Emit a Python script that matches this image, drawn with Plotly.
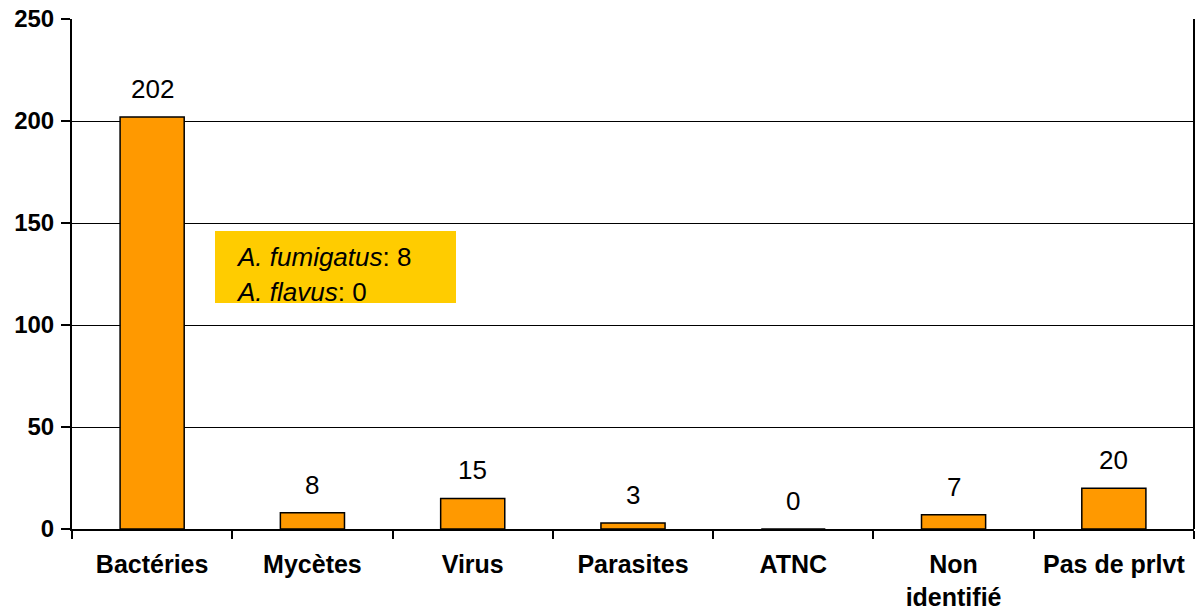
import plotly.graph_objects as go

categories = ["Bactéries", "Mycètes", "Virus", "Parasites", "ATNC", "Non<br>identifié", "Pas de prlvt"]
values = [202, 8, 15, 3, 0, 7, 20]
y_ticks = [0, 50, 100, 150, 200, 250]

FONT = "Liberation Sans, Arial"

fig = go.Figure()
fig.add_trace(go.Bar(
    x=categories, y=values, width=0.4,
    marker=dict(color="#FF9900", line=dict(color="black", width=1.5)),
    hoverinfo="skip",
))

for c, v in zip(categories, values):
    fig.add_annotation(x=c, y=v, text=str(v), showarrow=False, yanchor="bottom",
                       yshift=11, font=dict(family=FONT, size=26, color="black"))

fig.add_shape(type="rect", xref="paper", yref="y", x0=(215-72)/1122, x1=(456-72)/1122,
              y0=(529-303)/102*50, y1=(529-231)/102*50,
              fillcolor="#FFCC00", line=dict(width=0), layer="above")
fig.add_annotation(xref="paper", yref="y", x=(234-72)/1122, y=(529-257)/102*50,
                   text="<i>A. fumigatus</i>: 8", showarrow=False, xanchor="left", yanchor="middle",
                   font=dict(family=FONT, size=26, color="black"))
fig.add_annotation(xref="paper", yref="y", x=(234-72)/1122, y=(529-292)/102*50,
                   text="<i>A. flavus</i>: 0", showarrow=False, xanchor="left", yanchor="middle",
                   font=dict(family=FONT, size=26, color="black"))

fig.update_layout(
    width=1202, height=614,
    margin=dict(l=72, r=8, t=19, b=85),
    plot_bgcolor="white", paper_bgcolor="white",
    showlegend=False, bargap=0.6,
    font=dict(family=FONT, color="black"),
)
fig.update_xaxes(
    type="category", showline=True, linecolor="black", linewidth=2,
    ticks="outside", tickson="boundaries", ticklen=8, tickwidth=2, tickcolor="black",
    tickfont=dict(size=25, family=FONT, weight="bold"), ticklabelstandoff=12,
    showgrid=False, mirror=False, automargin=False,
)
fig.update_yaxes(
    range=[0, 250], tickvals=y_ticks, showline=True, linecolor="black", linewidth=2,
    ticks="outside", ticklen=9, tickwidth=2, tickcolor="black",
    tickfont=dict(size=24, family=FONT, weight="bold"), ticklabelstandoff=2,
    showgrid=True, gridcolor="black", gridwidth=1, zeroline=False, automargin=False,
)
fig.add_shape(type="line", xref="paper", yref="paper", x0=1, x1=1, y0=0, y1=1,
              line=dict(color="black", width=2))

fig.write_html("out.html", config={"displayModeBar": False},
               post_script="document.body.style.margin='0';")
